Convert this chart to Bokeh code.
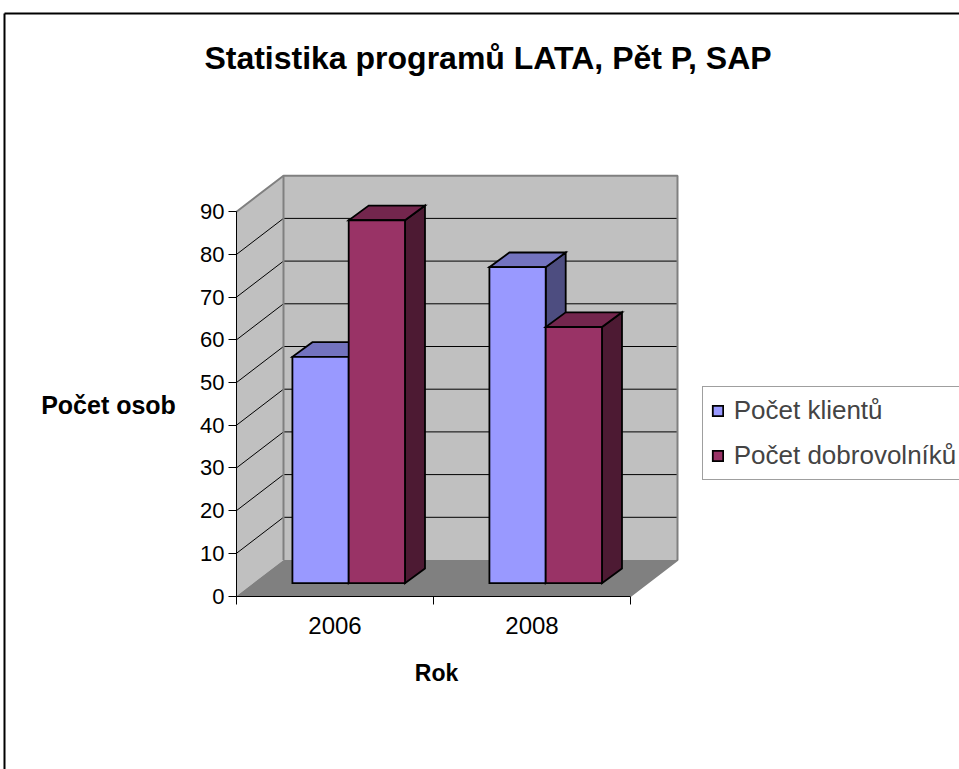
from bokeh.plotting import figure
from bokeh.models import Range1d, LinearAxis, FixedTicker, Label, Legend, LegendItem
from bokeh.embed import file_html
from bokeh.resources import INLINE

# ---------------- data ----------------
years = ["2006", "2008"]
klienti = [53, 74]
dobrovolnici = [85, 60]
series_names = ["Počet klientů", "Počet dobrovolníků"]
series_values = [klienti, dobrovolnici]
y_ticks = [0, 10, 20, 30, 40, 50, 60, 70, 80, 90]
title_text = "Statistika programů LATA, Pět P, SAP"
x_title = "Rok"
y_title = "Počet osob"

# ---------------- styling / layout ----------------
W, H = 959, 769
PAGE = 0                    # canvas origin in screenshot px
X0, XPX = 236.0, 197.0      # screenshot px of category 0, px per category
Y0, YPX = 595.5, 4.27       # screenshot px of value 0, px per unit
FONT = "Liberation Sans"

front_cols = ["#9999FF", "#993366"]
top_cols = ["#7373BF", "#73264D"]
side_cols = ["#4D4D80", "#4D1A33"]


def dxl(px):
    return px / XPX


def dyl(px):
    return px / YPX


def xd(px):
    return (px - X0) / XPX


def yd(py):
    return (Y0 - py) / YPX


n = len(years)
ymax = y_ticks[-1]

p = figure(width=W, height=H,
           x_range=Range1d(xd(PAGE), xd(PAGE + W)),
           y_range=Range1d(yd(PAGE + H), yd(PAGE)),
           output_backend="svg", toolbar_location=None,
           x_axis_location=None, y_axis_location=None,
           min_border=0)
p.outline_line_color = None
p.xgrid.visible = False
p.ygrid.visible = False
p.background_fill_color = "white"
p.border_fill_color = "white"

# wall depth vector and bar offsets
WDX, WDY = dxl(47), dyl(36)
FDX, FDY = dxl(13.7), dyl(12.8)
DDX, DDY = dxl(20), dyl(14.7)
BAR_W = 1 / 3.5
GAP = 0.75 * BAR_W

# walls & floor
p.patches(xs=[[0, 0, WDX, WDX], [WDX, n + WDX, n + WDX, WDX]],
          ys=[[0, ymax, ymax + WDY, WDY], [WDY, WDY, ymax + WDY, ymax + WDY]],
          fill_color="#C0C0C0", line_color=None)
p.patch(x=[0, n, n + WDX, WDX], y=[0, 0, WDY, WDY], fill_color="#808080", line_color=None)

# gridlines
gx, gy = [], []
for v in y_ticks[1:-1]:
    gx.append([WDX, n + WDX]); gy.append([v + WDY, v + WDY])
    gx.append([0, WDX]); gy.append([v, v + WDY])
p.multi_line(xs=gx, ys=gy, line_color="black", line_width=1)

# wall edges
p.multi_line(xs=[[0, WDX, n + WDX, n + WDX, n], [WDX, WDX]],
             ys=[[ymax, ymax + WDY, ymax + WDY, WDY, 0], [WDY, ymax + WDY]],
             line_color="#808080", line_width=2)

# bars
front_renderers = []
for s, vals in enumerate(series_values):
    fx, fy, tx, ty, sx, sy = [], [], [], [], [], []
    for c, v in enumerate(vals):
        xl = c + GAP + s * BAR_W + FDX
        xr = xl + BAR_W
        b = FDY
        t = v + FDY
        fx.append([xl, xr, xr, xl]); fy.append([b, b, t, t])
        tx.append([xl, xr, xr + DDX, xl + DDX]); ty.append([t, t, t + DDY, t + DDY])
        sx.append([xr, xr, xr + DDX, xr + DDX]); sy.append([b, t, t + DDY, b + DDY])
    p.patches(xs=sx, ys=sy, fill_color=side_cols[s], line_color="black", line_width=1.8, line_join="miter")
    p.patches(xs=tx, ys=ty, fill_color=top_cols[s], line_color="black", line_width=1.8, line_join="miter")
    r = p.patches(xs=fx, ys=fy, fill_color=front_cols[s], line_color="black", line_width=1.8, line_join="miter")
    front_renderers.append(r)

# axes
yaxis = LinearAxis(fixed_location=0, bounds=(0, ymax), ticker=FixedTicker(ticks=y_ticks),
                   major_tick_out=8, major_tick_in=0, minor_tick_out=0, minor_tick_in=0,
                   major_label_standoff=4, axis_line_color="black", major_tick_line_color="black",
                   major_label_text_font=FONT, major_label_text_font_size="22px",
                   major_label_text_color="black")
p.add_layout(yaxis, "left")

xaxis = LinearAxis(fixed_location=0, bounds=(0, n), ticker=FixedTicker(ticks=list(range(n + 1))),
                   major_tick_out=8, major_tick_in=0, minor_tick_out=0, minor_tick_in=0,
                   axis_line_color="black", major_tick_line_color="black",
                   major_label_text_color=None)
p.add_layout(xaxis, "below")

xlab = LinearAxis(fixed_location=0, ticker=FixedTicker(ticks=[c + 0.5 for c in range(n)]),
                  major_label_overrides={c + 0.5: years[c] for c in range(n)},
                  axis_line_color=None, major_tick_line_color=None, minor_tick_line_color=None,
                  major_label_standoff=15, major_label_text_font=FONT,
                  major_label_text_font_size="24px", major_label_text_color="black")
p.add_layout(xlab, "below")

# titles
p.add_layout(Label(x=xd(487.5), y=yd(57), text=title_text, text_align="center",
                   text_baseline="alphabetic", text_font=FONT, text_font_style="bold",
                   text_font_size="32px", text_color="black"))
p.add_layout(Label(x=xd(436), y=yd(672), text=x_title, text_align="center",
                   text_baseline="alphabetic", text_font=FONT, text_font_style="bold",
                   text_font_size="23px", text_color="black"))
p.add_layout(Label(x=xd(108), y=yd(404), text=y_title, text_align="center",
                   text_baseline="alphabetic", text_font=FONT, text_font_style="bold",
                   text_font_size="25px", text_color="black"))

# legend
legend = Legend(items=[LegendItem(label=series_names[s], renderers=[front_renderers[s]])
                       for s in range(len(series_names))],
                location=(701.7 - PAGE, H - (480 - PAGE)),
                border_line_color="#404040", border_line_width=1,
                padding=8, spacing=14, margin=0,
                glyph_width=13, glyph_height=13, label_standoff=10,
                label_text_font=FONT, label_text_font_size="26px",
                background_fill_color="white", background_fill_alpha=1)
p.add_layout(legend)

# outer chart border
p.multi_line(xs=[[xd(4), xd(4)], [xd(4), xd(PAGE + W)]],
             ys=[[yd(PAGE + H), yd(13)], [yd(13), yd(13)]],
             line_color="black", line_width=2)

open("out.html", "w").write(file_html(p, INLINE))
